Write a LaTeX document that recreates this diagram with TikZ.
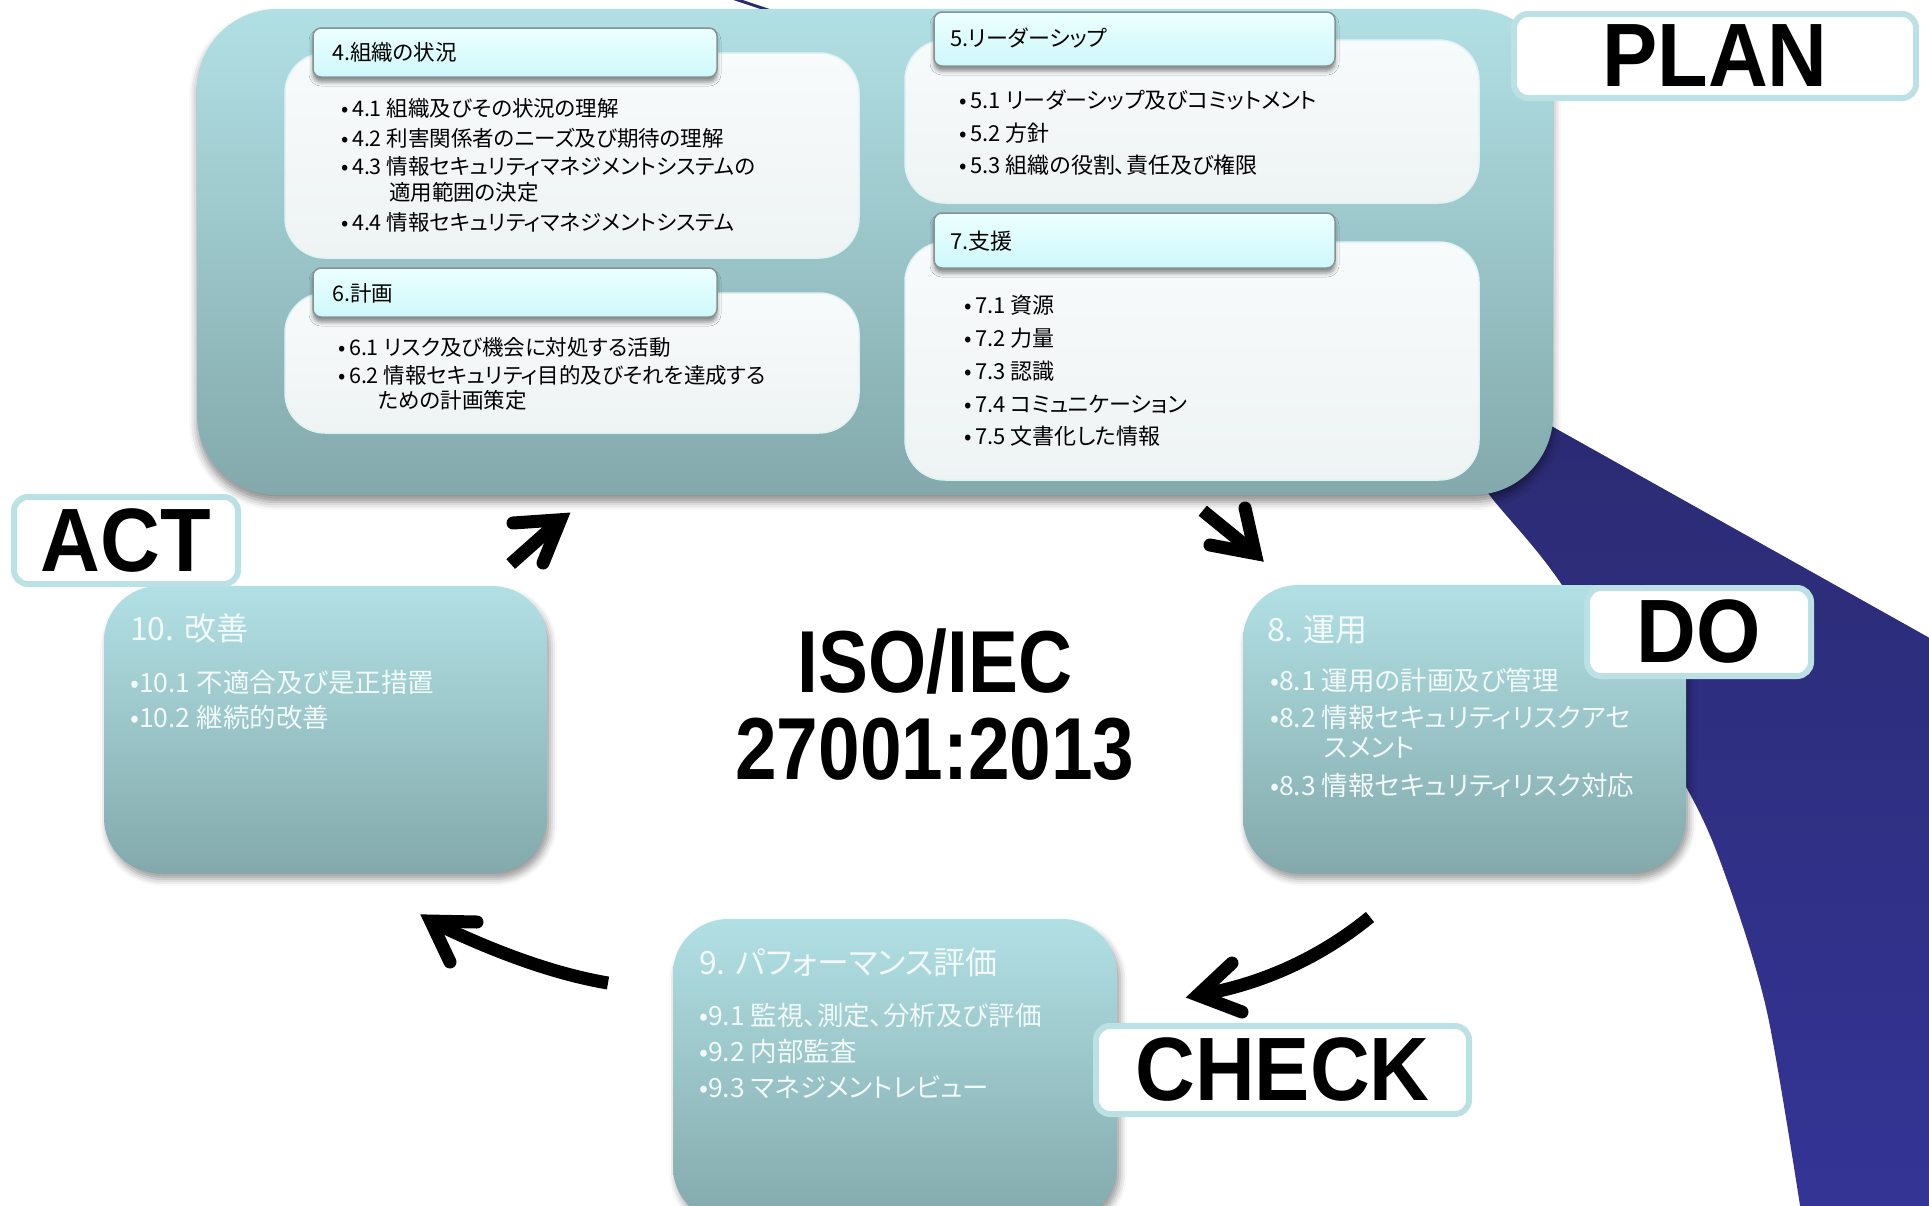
\documentclass[tikz,border=0pt]{standalone}
\usepackage{fontspec}
\setmainfont{Liberation Sans}
\newfontfamily\jp{Noto Sans CJK JP}[RawFeature=+palt]
\newfontfamily\lbl{Liberation Sans}[FakeStretch=0.92]
\newfontfamily\isofont{Liberation Sans}[FakeStretch=0.85]
\usetikzlibrary{shadows.blur,calc}
\definecolor{bxTop}{RGB}{177,224,228}
\definecolor{bxBot}{RGB}{131,169,172}
\definecolor{inTop}{RGB}{248,251,251}
\definecolor{inBot}{RGB}{238,243,244}
\definecolor{hdTop}{RGB}{236,255,255}
\definecolor{hdBot}{RGB}{206,248,250}
\definecolor{hdLine}{RGB}{135,145,145}
\definecolor{lblLine}{RGB}{188,225,229}
\definecolor{navyA}{RGB}{42,42,112}
\definecolor{navyB}{RGB}{52,52,150}
\definecolor{wtxt}{RGB}{242,250,250}
\newcommand{\bl}{•\,}
\begin{document}
\begin{tikzpicture}[x=1pt,y=-1pt,
  bigbox/.style={rounded corners=80pt, top color=bxTop, bottom color=bxBot, draw=none,
    minimum width=#1, inner sep=0pt,
    blur shadow={shadow xshift=0pt, shadow yshift=-7pt, shadow blur radius=8pt, shadow opacity=45}},
  stagebox/.style={rounded corners=55pt, top color=bxTop, bottom color=bxBot, draw=none,
    inner sep=0pt, minimum width=443pt,
    blur shadow={shadow xshift=3pt, shadow yshift=-6pt, shadow blur radius=7pt, shadow opacity=40}},
  innerbox/.style={rounded corners=40pt, top color=inTop, bottom color=inBot,
    draw=white!60!bxTop, line width=1.5pt, inner sep=0pt, minimum width=574pt},
  headbox/.style={rounded corners=8pt, top color=hdTop, bottom color=hdBot,
    draw=hdLine, line width=1.5pt, inner sep=0pt,
    blur shadow={shadow xshift=0pt, shadow yshift=-5pt, shadow blur radius=4pt, shadow opacity=45}},
  lblbox/.style={rounded corners=14pt, fill=white, draw=lblLine, line width=6pt, inner sep=0pt,
    font=\lbl\bfseries\fontsize{90}{100}\selectfont},
  jtxt/.style={anchor=west, inner sep=0pt, font=\jp\fontsize{21.5}{25}\selectfont},
  jtxtb/.style={anchor=west, inner sep=0pt, font=\jp\fontsize{22}{26}\selectfont},
  wtitle/.style={anchor=west, inner sep=0pt, text=wtxt, font=\jp\fontsize{32}{38}\selectfont},
  witem/.style={anchor=west, inner sep=0pt, text=wtxt, font=\jp\fontsize{26.5}{31}\selectfont},
  isotext/.style={inner sep=0pt, font=\isofont\bfseries\fontsize{88}{96}\selectfont},
  shaft/.style={line width=13pt, line cap=butt},
  headst/.style={line width=13pt, line cap=round, line join=miter, miter limit=10}]
\useasboundingbox (0,0) rectangle (1929,1205);
\clip (0,0) rectangle (1929,1205);

% navy band behind
\shade[top color=navyA, bottom color=navyB] (1380,330) -- (1935,641) -- (1935,1212)
  -- (1801,1212) -- plot[smooth] coordinates {(1801,1212) (1767,1012) (1727,880) (1685,785) (1562,585) (1488,493) (1440,420)} -- cycle;
\draw[navyA, line width=3pt] (726,-4) -- (780,14);

% PLAN block
\node[bigbox=1356pt, minimum height=486pt] (plan) at (875,252) {};
\node[innerbox, minimum height=205pt] (in4) at (572,155.5) {};
\node[headbox, minimum width=404pt, minimum height=49pt] (hd4) at (515,52.5) {};
\node[innerbox, minimum height=140pt] (in6) at (572,363) {};
\node[headbox, minimum width=404pt, minimum height=49pt] (hd6) at (515,292.5) {};
\node[innerbox, minimum height=163pt] (in5) at (1192,121.5) {};
\node[headbox, minimum width=401pt, minimum height=54pt] (hd5) at (1134.5,39) {};
\node[innerbox, minimum height=238pt] (in7) at (1192,361) {};
\node[headbox, minimum width=401pt, minimum height=55pt] (hd7) at (1134.5,240.5) {};

\node[jtxt] (t4) at (332,52) {4.組織の状況};
\node[jtxt] (t41) at (341,108) {\bl 4.1 組織及びその状況の理解};
\node[jtxt] (t42) at (341,138) {\bl 4.2 利害関係者のニーズ及び期待の理解};
\node[jtxt] (t43) at (341,166) {\bl 4.3 情報セキュリティマネジメントシステムの};
\node[jtxt] (t43b) at (389,192) {適用範囲の決定};
\node[jtxt] (t44) at (341,222) {\bl 4.4 情報セキュリティマネジメントシステム};

\node[jtxt] (t6) at (332,293) {6.計画};
\node[jtxt] (t61) at (338,347) {\bl 6.1 リスク及び機会に対処する活動};
\node[jtxt] (t62) at (338,375) {\bl 6.2 情報セキュリティ目的及びそれを達成する};
\node[jtxt] (t62b) at (378,400) {ための計画策定};

\node[jtxtb] (t5) at (950,38) {5.リーダーシップ};
\node[jtxtb] (t51) at (959,100) {\bl 5.1 リーダーシップ及びコミットメント};
\node[jtxtb] (t52) at (959,133) {\bl 5.2 方針};
\node[jtxtb] (t53) at (959,165) {\bl 5.3 組織の役割、責任及び権限};

\node[jtxtb] (t7) at (950,241) {7.支援};
\node[jtxtb] (t71) at (964,305) {\bl 7.1 資源};
\node[jtxtb] (t72) at (964,338) {\bl 7.2 力量};
\node[jtxtb] (t73) at (964,371) {\bl 7.3 認識};
\node[jtxtb] (t74) at (964,404) {\bl 7.4 コミュニケーション};
\node[jtxtb] (t75) at (964,436) {\bl 7.5 文書化した情報};

% stage boxes
\node[stagebox, minimum height=287pt] (act) at (325.5,729.5) {};
\node[wtitle] (t10) at (130,628) {10. 改善};
\node[witem] (t101) at (130,682) {•10.1 不適合及び是正措置};
\node[witem] (t102) at (130,717) {•10.2 継続的改善};

\node[stagebox, minimum height=288pt] (do) at (1464.5,729) {};
\node[wtitle] (t8) at (1267,630) {8. 運用};
\node[witem] (t81) at (1270,680) {•8.1 運用の計画及び管理};
\node[witem] (t82) at (1270,717) {•8.2 情報セキュリティリスクアセ};
\node[witem] (t82b) at (1324,748) {スメント};
\node[witem] (t83) at (1270,785) {•8.3 情報セキュリティリスク対応};

\node[stagebox, minimum width=444pt, minimum height=303pt] (chk) at (895,1070.5) {};
\node[wtitle] (t9) at (699,962) {9. パフォーマンス評価};
\node[witem] (t91) at (699,1015) {•9.1 監視、測定、分析及び評価};
\node[witem] (t92) at (699,1051) {•9.2 内部監査};
\node[witem] (t93) at (699,1087) {•9.3 マネジメントレビュー};

% phase labels
\node[lblbox, minimum width=402pt, minimum height=84pt] (lplan) at (1715,56) {PLAN};
\node[lblbox, minimum width=224pt, minimum height=87pt] (lact) at (126,540.5) {ACT};
\node[lblbox, minimum width=224pt, minimum height=88pt] (ldo) at (1699,632) {DO};
\node[lblbox, minimum width=373pt, minimum height=88pt] (lcheck) at (1282.5,1070) {CHECK};

% centre title
\node[isotext] (iso1) at (935,661) {ISO/IEC};
\node[isotext] (iso2) at (935,749) {27001:2013};

% arrows
% ACT -> PLAN
\coordinate (a1t) at (510.7,564);
\coordinate (a1h) at (572.7,511);
\coordinate (a1b) at (513,523);
\coordinate (a1c) at (543,563);
\coordinate (a1m) at ($(a1b)!0.5!(a1c)$);
\coordinate (a1v) at ($(a1h)!15pt!(a1m)$);
\draw[shaft] (a1t) -- (a1v);
\draw[headst] (a1b) -- (a1v) -- (a1c);
% PLAN -> DO
\coordinate (a2t) at (1202.7,510.7);
\coordinate (a2h) at (1266,564);
\coordinate (a2b) at (1245,508);
\coordinate (a2c) at (1210,545);
\coordinate (a2m) at ($(a2b)!0.5!(a2c)$);
\coordinate (a2v) at ($(a2h)!15pt!(a2m)$);
\draw[shaft] (a2t) -- (a2v);
\draw[headst] (a2b) -- (a2v) -- (a2c);
% DO -> CHECK
\coordinate (a3t) at (1370,917);
\coordinate (a3h) at (1183,998);
\coordinate (a3b) at (1232,963);
\coordinate (a3c) at (1242,1012);
\coordinate (a3m) at ($(a3b)!0.5!(a3c)$);
\coordinate (a3v) at ($(a3h)!15pt!(a3m)$);
\draw[shaft] (a3t) .. controls (1320,958) and (1260,985) .. (a3v);
\draw[headst] (a3b) -- (a3v) -- (a3c);
% CHECK -> ACT
\coordinate (a4t) at (608,983);
\coordinate (a4h) at (418,913);
\coordinate (a4b) at (477,922);
\coordinate (a4c) at (450,962);
\coordinate (a4m) at ($(a4b)!0.5!(a4c)$);
\coordinate (a4v) at ($(a4h)!15pt!(a4m)$);
\draw[shaft] (a4t) .. controls (560,975) and (500,955) .. (a4v);
\draw[headst] (a4b) -- (a4v) -- (a4c);
\end{tikzpicture}
\end{document}
